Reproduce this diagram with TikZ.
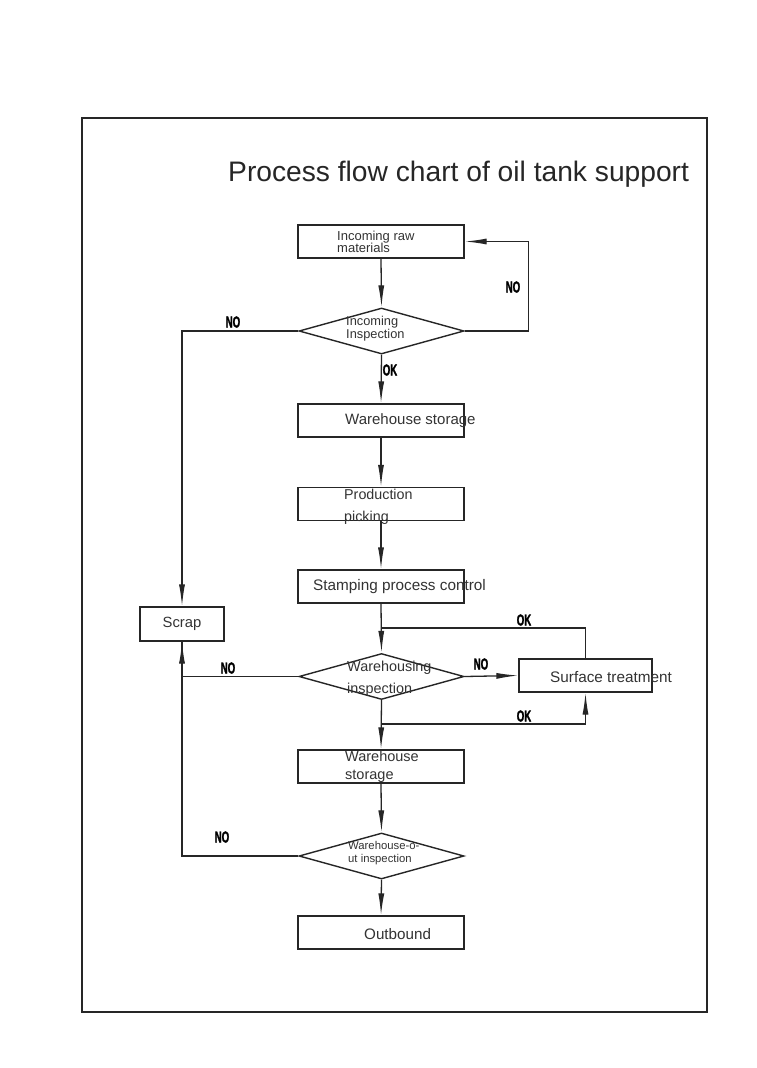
\documentclass[tikz,border=0pt]{standalone}
\usepackage{fontspec}
\setmainfont{Liberation Sans}
\newfontfamily\labfont[FakeStretch=0.6,FakeBold=1.5]{Liberation Sans Bold}
\usetikzlibrary{shapes.geometric,arrows.meta}
\begin{document}
\begin{tikzpicture}[x=1pt,y=-1pt,
  box/.style={draw=black!85, line width=1.3pt, minimum width=166pt, minimum height=33pt, inner sep=0pt},
  dia/.style={draw=black!85, line width=1.4pt, diamond, aspect=3.6, minimum width=165pt, minimum height=46pt, inner sep=0pt},
  conn/.style={draw=black!85, line width=1.3pt},
  arr/.style={conn, -{Latex[length=22pt,width=6pt]}},
  txt/.style={anchor=west, inner sep=0pt, text=black!80, align=left},
  lab/.style={inner sep=0pt, text=black, font=\labfont\fontsize{16}{16}\selectfont}]
\useasboundingbox (0,0) rectangle (756,1068);
\fill[white] (0,0) rectangle (756,1068);
\draw[line width=1.3pt, black!85] (82,118) rectangle (707,1012);
\node[anchor=west, inner sep=0pt, text=black!85, font=\fontsize{28.2}{30}\selectfont] (title) at (228,174) {Process flow chart of oil tank support};
% boxes
\node[box] (raw) at (381,241.5) {};
\node[txt, font=\fontsize{13}{12.5}\selectfont] (traw) at (337,242) {Incoming raw\\materials};
\node[dia] (d1) at (381.5,331) {};
\node[txt, font=\fontsize{12.8}{13}\selectfont] (td1) at (346,329) {Incoming\\Inspection};
\node[box] (ws1) at (381,420.5) {};
\node[txt, font=\fontsize{15}{16}\selectfont] (tws1) at (345,421) {Warehouse storage};
\node[box] (pp) at (381,504) {};
\node[txt, font=\fontsize{14.3}{22}\selectfont] (tpp) at (344,507) {Production\\picking};
\node[box] (spc) at (381,586.5) {};
\node[txt, font=\fontsize{15.3}{16}\selectfont] (tspc) at (313,587) {Stamping process control};
\node[box, minimum width=84pt, minimum height=34pt] (scrap) at (182,624) {};
\node[inner sep=0pt, text=black!80, font=\fontsize{14.8}{16}\selectfont] (tscrap) at (182,624) {Scrap};
\node[dia] (d2) at (381.5,676.5) {};
\node[txt, font=\fontsize{14.4}{22}\selectfont] (td2) at (347,679) {Warehousing\\inspection};
\node[box, minimum width=133pt] (st) at (585.5,675.5) {};
\node[txt, font=\fontsize{15.3}{16}\selectfont] (tst) at (550,677) {Surface treatment};
\node[box] (ws2) at (381,766.5) {};
\node[txt, font=\fontsize{14.5}{18}\selectfont] (tws2) at (345,767) {Warehouse\\storage};
\node[dia] (d3) at (381.5,856) {};
\node[txt, font=\fontsize{11.3}{13}\selectfont] (td3) at (348,853.5) {Warehouse-o-\\ut inspection};
\node[box] (out) at (381,932.5) {};
\node[txt, font=\fontsize{15.2}{16}\selectfont] (tout) at (364,934) {Outbound};
% connectors
\draw[arr] (raw.south) -- (d1.north);
\draw[arr] (d1.east) -- ++(64,0) |- (raw.east);
\draw[arr] (d1.west) -| (scrap.north);
\draw[arr] (d1.south) -- (ws1.north);
\draw[arr] (ws1.south) -- (pp.north);
\draw[arr] (pp.south) -- (spc.north);
\draw[arr] (spc.south) -- (d2.north);
\coordinate (jt) at (381.5,628);
\coordinate (jb) at (381.5,724);
\draw[conn] (st.north) |- (jt);
\draw[arr] (jb) -| (st.south);
\draw[arr] (d2.east) -- (st.west);
\draw[arr] (d2.west) -| (scrap.south);
\draw[arr] (d2.south) -- (ws2.north);
\draw[arr] (ws2.south) -- (d3.north);
\draw[conn] (d3.west) -| (scrap.south);
\draw[arr] (d3.south) -- (out.north);
% labels
\node[lab] (l1) at (513,287) {NO};
\node[lab] (l2) at (233,322) {NO};
\node[lab] (l3) at (390,370) {OK};
\node[lab] (l4) at (524,620) {OK};
\node[lab] (l5) at (481,664) {NO};
\node[lab] (l6) at (228,668) {NO};
\node[lab] (l7) at (524,716) {OK};
\node[lab] (l8) at (222,837) {NO};
\end{tikzpicture}
\end{document}
